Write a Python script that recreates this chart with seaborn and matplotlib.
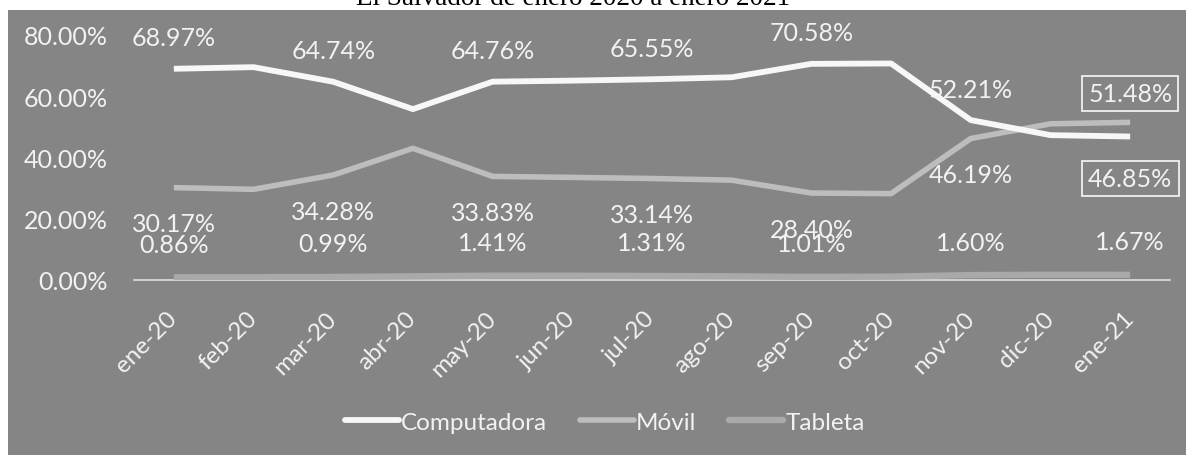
import matplotlib
matplotlib.use("Agg")
import matplotlib.pyplot as plt
from matplotlib.patches import Rectangle
from matplotlib.lines import Line2D
import seaborn as sns
import pandas as pd
import numpy as np

# ---- data ----
months = ["ene-20", "feb-20", "mar-20", "abr-20", "may-20", "jun-20", "jul-20",
          "ago-20", "sep-20", "oct-20", "nov-20", "dic-20", "ene-21"]
computadora = [68.97, 69.5, 64.74, 55.8, 64.76, 65.1, 65.55, 66.2, 70.58, 70.7, 52.21, 47.3, 46.85]
movil = [30.17, 29.6, 34.28, 43.0, 33.83, 33.5, 33.14, 32.6, 28.40, 28.2, 46.19, 51.0, 51.48]
tableta = [0.86, 0.9, 0.99, 1.2, 1.41, 1.4, 1.31, 1.2, 1.01, 1.1, 1.60, 1.7, 1.67]
series_names = ["Computadora", "Móvil", "Tableta"]
yticks = [0, 20, 40, 60, 80]
title = "El Salvador de enero 2020 a enero 2021"
labeled_idx = [0, 2, 4, 6, 8, 10, 12]

BG = "#858585"
TXT = "#f2f2f2"
colors = {"Computadora": "#f7f7f7", "Móvil": "#bdbdbd", "Tableta": "#a9a9a9"}
widths = {"Computadora": 4.2, "Móvil": 4.0, "Tableta": 4.6}
FS = 18

sns.set_theme(style="white")
plt.rcParams["font.family"] = ["Lato", "DejaVu Sans"]

W, H = 1186, 456
fig = plt.figure(figsize=(W / 100, H / 100), dpi=100)
fig.patch.set_facecolor("white")
# scanned grey panel (behind the axes)
bg = Rectangle((8 / W, 0), 1 - 8 / W, (H - 11) / H, transform=fig.transFigure,
               facecolor=BG, edgecolor="none", zorder=-10)
fig.add_artist(bg)
# partially visible title (cut off at top)
fig.text(573 / W, 1 - 5 / H, title, ha="center", va="baseline", family="Liberation Serif",
         fontsize=19.5, color="black", zorder=-20)

ax = fig.add_axes([134 / W, (H - 281) / H, 1036 / W, 245 / H])
ax.set_zorder(5)
ax.patch.set_alpha(0)

df = pd.DataFrame({
    "idx": list(range(len(months))) * 3,
    "value": computadora + movil + tableta,
    "serie": sum([[s] * len(months) for s in series_names], []),
})

for s in ["Tableta", "Móvil", "Computadora"]:
    sub = df[df["serie"] == s]
    sns.lineplot(data=sub, x="idx", y="value", color=colors[s], linewidth=widths[s],
                 sort=False, ax=ax, legend=False, solid_joinstyle="round", solid_capstyle="butt",
                 zorder=3)

ax.set_xlim(-0.5, len(months) - 0.5)
ax.set_ylim(0, 80)
ax.set_xlabel("")
ax.set_ylabel("")

for sp in ["top", "right", "left"]:
    ax.spines[sp].set_visible(False)
ax.spines["bottom"].set_color("#d6d6d6")
ax.spines["bottom"].set_linewidth(1.3)
ax.spines["bottom"].set_zorder(2)

ax.set_yticks(yticks)
ax.set_yticklabels([f"{v:.2f}%" for v in yticks])
ax.tick_params(axis="y", length=0, pad=19, labelsize=FS, labelcolor=TXT)

ax.set_xticks(range(len(months)))
ax.set_xticklabels(months, rotation=45, ha="right", va="center", rotation_mode="anchor")
ax.set_xticks(np.arange(-0.5, len(months), 1.0), minor=True)
ax.tick_params(axis="x", which="major", length=0, pad=25, labelsize=17.5, labelcolor=TXT)
ax.tick_params(axis="x", which="minor", length=5, width=1.3, color="#d6d6d6", direction="out")

def fmt(v):
    return f"{v:.2f}%"

off = {"Computadora": 31, "Móvil": -36, "Tableta": 33}
vals = {"Computadora": computadora, "Móvil": movil, "Tableta": tableta}
last = len(months) - 1
for s in series_names:
    for i in labeled_idx:
        v = vals[s][i]
        dy = off[s]
        box = None
        if i == last and s == "Computadora":
            dy = -42
            box = dict(boxstyle="square,pad=0.25", fc="none", ec="#f0f0f0", lw=1.3)
        if i == last and s == "Móvil":
            dy = 29
            box = dict(boxstyle="square,pad=0.25", fc="none", ec="#f0f0f0", lw=1.3)
        ax.annotate(fmt(v), xy=(i, v), xytext=(0, dy), textcoords="offset pixels",
                    ha="center", va="center", fontsize=FS, color=TXT, bbox=box,
                    annotation_clip=False, zorder=5)

handles = [Line2D([0], [0], color=colors[s], lw=widths[s]) for s in series_names]
leg = fig.legend(handles, series_names, loc="center", bbox_to_anchor=(605 / W, 1 - 423 / H),
                 ncol=3, frameon=False, handlelength=2.2, handletextpad=0.1,
                 columnspacing=1.35, fontsize=17.5)
for t in leg.get_texts():
    t.set_color(TXT)

fig.savefig("out.png", dpi=100, facecolor=fig.get_facecolor())
